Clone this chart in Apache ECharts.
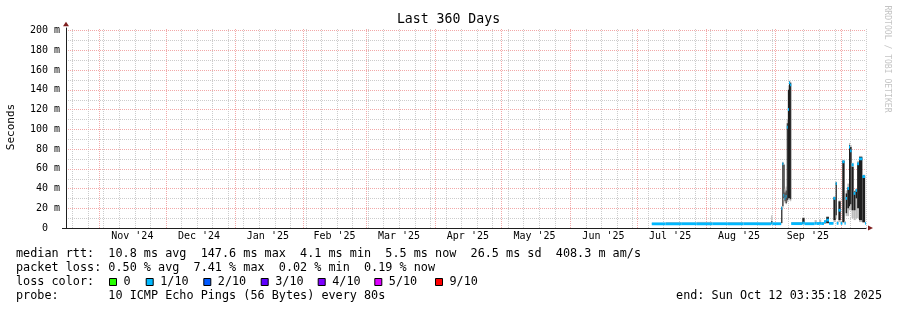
<!DOCTYPE html>
<html><head><meta charset="utf-8">
<script src="https://cdn.jsdelivr.net/npm/echarts@6/dist/echarts.min.js"></script>
<style>html,body{margin:0;padding:0;background:#fff}#c{width:897px;height:310px}</style>
</head><body><div id="c"></div>
<script>
// ---- time range & axis labels ----
const rangeStart = '2024-10-17 03:35:18';
const rangeEnd = '2025-10-12 03:35:18';
const monthLabels = ["Nov '24", "Dec '24", "Jan '25", "Feb '25", "Mar '25", "Apr '25", "May '25", "Jun '25", "Jul '25", "Aug '25", "Sep '25"];
const monthLabelAt = ['2024-11-16', '2024-12-16', '2025-01-16', '2025-02-15', '2025-03-16', '2025-04-16', '2025-05-16', '2025-06-16', '2025-07-16', '2025-08-16', '2025-09-16'];
const monthStarts = ['2024-11-01', '2024-12-01', '2025-01-01', '2025-02-01', '2025-03-01', '2025-04-01', '2025-05-01', '2025-06-01', '2025-07-01', '2025-08-01', '2025-09-01', '2025-10-01'];
const firstWeekLine = '2024-10-20';
const yTickValues = [0, 20, 40, 60, 80, 100, 120, 140, 160, 180, 200];
const yMinorValues = [10, 30, 50, 70, 90, 110, 130, 150, 170, 190];

// ---- data bins (ms) ----
const binStart = [
 '2025-07-07 18:00','2025-07-14 00:00','2025-07-21 00:00','2025-07-28 00:00','2025-08-04 00:00','2025-08-11 00:00','2025-08-18 00:00','2025-08-25 00:00','2025-08-30 12:00','2025-08-31 00:00',
 '2025-09-04 00:00','2025-09-04 12:00','2025-09-05 00:00','2025-09-05 12:00','2025-09-06 00:00','2025-09-06 12:00','2025-09-07 00:00','2025-09-07 12:00','2025-09-08 00:00','2025-09-08 12:00',
 '2025-09-13 12:00','2025-09-14 12:00','2025-09-19 00:00','2025-09-20 00:00','2025-09-21 00:00','2025-09-22 00:00','2025-09-23 06:00','2025-09-24 06:00','2025-09-25 12:00','2025-09-27 12:00',
 '2025-09-28 12:00','2025-09-29 00:00','2025-09-29 18:00','2025-09-30 18:00','2025-10-01 12:00','2025-10-02 12:00','2025-10-03 00:00','2025-10-03 18:00','2025-10-04 12:00','2025-10-05 00:00',
 '2025-10-05 16:00','2025-10-06 14:00','2025-10-07 12:00','2025-10-08 04:00','2025-10-09 00:00','2025-10-10 12:00','2025-10-11 18:00'
];
const medianMs = [4.2,4.2,4.3,4.2,4.3,4.2,4.3,4.2,5.0,4.3, 20,65,33,30,32,102,120,147,145,4.4, 5.0,4.3,4.7,4.5,4.7,4.5,6.4,8.0,4.7,30, 45,4.7,18,4.7,67,4.7,30,40,82,78, 64,35,38,65,70,52,4.7];
const smokeLo  = [4.2,4.2,4.3,4.2,4.3,4.2,4.3,4.2,4.0,4.3, 5,22,30,27,25,28,30,30,29,4.4, 4.2,4.3,4.7,4.5,4.7,4.5,4.8,5,4.7,8, 13,4.7,8,4.7,6,4.7,15,20,22,24, 18,18,30,20,8,6,4.7];
const smokeHi  = [4.2,4.2,4.3,4.2,4.3,4.2,4.3,4.2,7,4.3, 21,66,64,36,38,106,140,148,147,4.4, 10,4.3,4.7,4.5,4.7,4.5,7,11,4.7,31, 46,4.7,27,4.7,68,4.7,35,41,84,82, 62,37,39,66,72,53,4.7];
const outerLo  = [3.8,3.8,3.9,3.8,3.9,3.8,3.9,3.8,3.8,3.9, 4.5,20,28,25,24,26,28,28,27,3.9, 3.8,3.9,4.2,4,4.2,4,4.5,4.5,4.2,6, 10,4.2,6,4.2,5,4.2,12,12,18,18, 10,8,10,10,6,5,4.2];
const outerHi  = [5.2,6.0,5.5,6.2,5.4,6.0,5.6,5.8,13,5.5, 22,67,65,40,42,110,144,149,148,6, 11,5.5,8,6,8.5,6,8,12,6,32, 47,7,28,7,69,7,38,45,86,84, 66,38,40,68,73,54,6];

// ---- legend ----
const statLines = [
  'median rtt:  10.8 ms avg  147.6 ms max  4.1 ms min  5.5 ms now  26.5 ms sd  408.3 m am/s',
  'packet loss: 0.50 % avg  7.41 % max  0.02 % min  0.19 % now'
];
const probeLine = 'probe:       10 ICMP Echo Pings (56 Bytes) every 80s';
const endLine = 'end: Sun Oct 12 03:35:18 2025';
const lossLabels = ['0', '1/10', '2/10', '3/10', '4/10', '5/10', '9/10'];
const lossColors = ['#26ff00', '#00b8ff', '#0059ff', '#5e00ff', '#7e00ff', '#dd00ff', '#ff0000'];

function ts(s) {
  const [d, t = '00:00:00'] = s.split(' ');
  const [Y, M, D] = d.split('-').map(Number);
  const [h, mi, se = 0] = t.split(':').map(Number);
  return Date.UTC(Y, M - 1, D, h, mi, se);
}
const T0 = ts(rangeStart), T1 = ts(rangeEnd);
const DAY = 86400000;
const labelTs = monthLabelAt.map(ts);

// grid lines data: [x, y, kind]  kind 0 minor vert, 1 minor horiz, 2 major vert, 3 major horiz
const gridData = [];
for (let t = ts(firstWeekLine); t < T1; t += 7 * DAY) gridData.push([t, 0, 0]);
yMinorValues.forEach(v => gridData.push([T0, v, 1]));
monthStarts.forEach(m => gridData.push([ts(m), 0, 2]));
yTickValues.forEach(v => { if (v > 0) gridData.push([T0, v, 3]); });

const smokeData = binStart.map((s, i) => [
  ts(s), i + 1 < binStart.length ? ts(binStart[i + 1]) : T1,
  medianMs[i], smokeLo[i], smokeHi[i], outerLo[i], outerHi[i]
]);

const MONO = '"DejaVu Sans Mono", monospace';
const legendFont = '11.8px ' + MONO;
const LY = [254.3, 268.3, 282.3, 296.2];

const graphics = [
  { type: 'text', x: 448.5, y: 19.5, style: { text: 'Last 360 Days', font: '13.2px ' + MONO, fill: '#000', align: 'center', verticalAlign: 'middle' } },
  { type: 'text', x: 11, y: 127, rotation: Math.PI / 2, style: { text: 'Seconds', font: '11px ' + MONO, fill: '#000', align: 'center', verticalAlign: 'middle' } },
  { type: 'text', x: 887, y: 59, rotation: -Math.PI / 2, style: { text: 'RRDTOOL / TOBI OETIKER', font: '8.1px ' + MONO, fill: '#c4c4c4', align: 'center', verticalAlign: 'middle' } },
  { type: 'text', x: 16, y: LY[0], style: { text: statLines[0], font: legendFont, fill: '#000', verticalAlign: 'middle' } },
  { type: 'text', x: 16, y: LY[1], style: { text: statLines[1], font: legendFont, fill: '#000', verticalAlign: 'middle' } },
  { type: 'text', x: 16, y: LY[2], style: { text: 'loss color:', font: legendFont, fill: '#000', verticalAlign: 'middle' } },
  { type: 'text', x: 16, y: LY[3], style: { text: probeLine, font: legendFont, fill: '#000', verticalAlign: 'middle' } },
  { type: 'text', x: 882, y: LY[3], style: { text: endLine, font: legendFont, fill: '#000', align: 'right', verticalAlign: 'middle' } }
];
const boxX = [109, 145.7, 203.3, 260.7, 317.7, 374.3, 435];
lossLabels.forEach((lab, i) => {
  graphics.push({ type: 'rect', shape: { x: boxX[i] + 0.5, y: 278.5, width: 7, height: 7 }, style: { fill: lossColors[i], stroke: '#000', lineWidth: 1 } });
  graphics.push({ type: 'text', x: boxX[i] + 14.5, y: LY[2], style: { text: lab, font: legendFont, fill: '#000', verticalAlign: 'middle' } });
});

const chart = echarts.init(document.getElementById('c'), null, { renderer: 'canvas' });
chart.setOption({
  animation: false,
  backgroundColor: '#ffffff',
  grid: { left: 66, right: 31, top: 28, bottom: 82, containLabel: false },
  xAxis: [
    {
      type: 'value', min: T0, max: T1, z: 5,
      axisLine: { show: true, lineStyle: { color: '#1f1f1f', width: 1 } },
      axisTick: { show: false },
      splitLine: { show: false },
      axisLabel: {
        show: true, customValues: labelTs, margin: 3,
        fontFamily: 'DejaVu Sans Mono', fontSize: 10, color: '#000',
        formatter: (v) => { const k = labelTs.indexOf(v); return k >= 0 ? monthLabels[k] : ''; }
      }
    },
    {
      type: 'value', min: T0, max: T1, position: 'bottom', z: 4,
      axisLine: { show: true, symbol: ['none', 'triangle'], symbolSize: [5, 5], symbolOffset: [0, 4.5], lineStyle: { color: '#7f1f1f', width: 0 } },
      axisTick: { show: false }, axisLabel: { show: false }, splitLine: { show: false }
    }
  ],
  yAxis: [
    {
      type: 'value', min: 0, max: 202.5, z: 5,
      axisLine: { show: true, lineStyle: { color: '#1f1f1f', width: 1 } },
      axisTick: { show: true, customValues: [0], length: 4, lineStyle: { color: '#1f1f1f' } },
      splitLine: { show: false },
      axisLabel: {
        show: true, customValues: yTickValues, margin: 6,
        fontFamily: 'DejaVu Sans Mono', fontSize: 10, color: '#000',
        formatter: (v) => v === 0 ? '0  ' : v + ' m'
      }
    },
    {
      type: 'value', min: 0, max: 202.5, position: 'left', z: 4,
      axisLine: { show: true, symbol: ['none', 'triangle'], symbolSize: [6, 4.5], symbolOffset: [0, 4], lineStyle: { color: '#7f1f1f', width: 0 } },
      axisTick: { show: false }, axisLabel: { show: false }, splitLine: { show: false }
    }
  ],
  series: [
    {
      type: 'custom', name: 'grid', z: 1, silent: true,
      data: gridData,
      renderItem: (params, api) => {
        const cs = params.coordSys;
        const kind = api.value(2);
        const major = kind >= 2;
        const style = { stroke: major ? '#f2a8a8' : '#cccccc', lineWidth: 1, lineDash: [1, 1] };
        if (kind === 0 || kind === 2) {
          const x = Math.round(api.coord([api.value(0), 0])[0]) + 0.5;
          return { type: 'line', shape: { x1: x, y1: cs.y + cs.height, x2: x, y2: cs.y }, style };
        }
        const y = Math.round(api.coord([T0, api.value(1)])[1]) + 0.5;
        return { type: 'line', shape: { x1: cs.x, y1: y, x2: cs.x + cs.width, y2: y }, style };
      }
    },
    {
      type: 'custom', name: 'median rtt', z: 3, silent: true,
      data: smokeData,
      renderItem: (params, api) => {
        const s = api.value(0), e = api.value(1);
        const med = api.value(2), lo = api.value(3), hi = api.value(4), lo2 = api.value(5), hi2 = api.value(6);
        const a = api.coord([s, hi2]), b = api.coord([e, lo2]);
        const c = api.coord([s, hi]), d = api.coord([e, lo]);
        const m = api.coord([s, med]), m2 = api.coord([e, med]);
        const children = [
          { type: 'rect', shape: { x: a[0], y: a[1], width: b[0] - a[0], height: b[1] - a[1] }, style: { fill: '#bdbdbd' } }
        ];
        if (hi > lo) children.push({ type: 'rect', shape: { x: c[0], y: c[1], width: d[0] - c[0], height: d[1] - c[1] }, style: { fill: '#1e1e1e' } });
        children.push({ type: 'rect', shape: { x: m[0], y: m[1] - 1.4, width: m2[0] - m[0], height: 2.8 }, style: { fill: '#00b8ff' } });
        return { type: 'group', children };
      }
    }
  ],
  graphic: graphics
});
</script>
</body></html>
